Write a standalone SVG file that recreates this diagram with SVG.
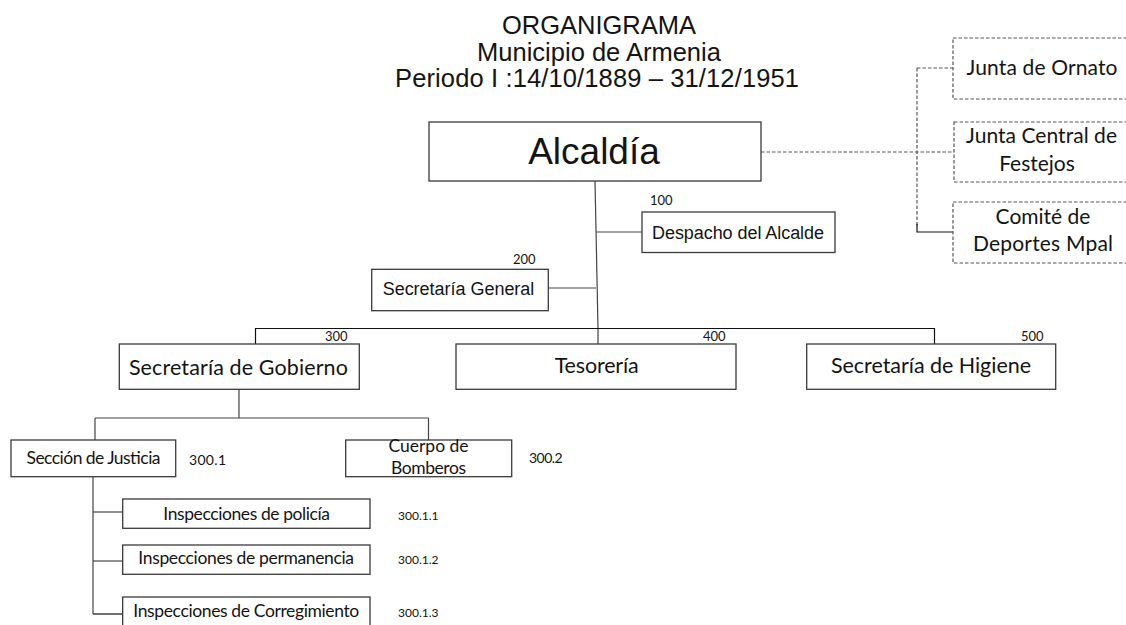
<svg xmlns="http://www.w3.org/2000/svg" width="1126" height="625" viewBox="0 0 1126 625">
<style>
.bg{fill:#fff}
.box{fill:#fff;stroke:#3a3a3a;stroke-width:1.3}
.dbox{fill:#fff;stroke:#555;stroke-width:1.2;stroke-dasharray:3.5 2}
.ln{fill:none;stroke:#444;stroke-width:1.2}
.lnk{fill:none;stroke:#111;stroke-width:1.2}
.dl{fill:none;stroke:#555;stroke-width:1.2;stroke-dasharray:3.5 2}
.a{font-family:"Liberation Sans",Arial,sans-serif;fill:#141414}
.c{font-family:Lato,"Liberation Sans",sans-serif;fill:#141414}
.mid{text-anchor:middle}
</style>
<rect class="bg" x="0" y="0" width="1126" height="625"/>
<g id="title">
<text class="a mid" x="599" y="34" font-size="25.5">ORGANIGRAMA</text>
<text class="a mid" x="599" y="61" font-size="25.5">Municipio de Armenia</text>
<text class="a mid" x="597" y="87" font-size="25.5" textLength="404">Periodo I :14/10/1889 – 31/12/1951</text>
</g>
<g id="connectors">
<polyline class="ln" points="595,181 598,328"/>
<line class="ln" x1="598" y1="328" x2="598" y2="344"/>
<line class="ln" x1="596" y1="232" x2="642" y2="232"/>
<line class="ln" x1="548" y1="288" x2="596" y2="288"/>
<line class="lnk" x1="255.5" y1="328.5" x2="934.5" y2="328.5"/>
<line class="lnk" x1="255.5" y1="328" x2="255.5" y2="344"/>
<line class="lnk" x1="934.5" y1="328" x2="934.5" y2="344"/>
<line class="ln" x1="239" y1="389" x2="239" y2="418"/>
<line class="ln" x1="95" y1="418" x2="428.5" y2="418"/>
<line class="ln" x1="95" y1="418" x2="95" y2="440"/>
<line class="ln" x1="428.5" y1="418" x2="428.5" y2="440"/>
<line class="ln" x1="93" y1="477" x2="93" y2="614"/>
<line class="ln" x1="93" y1="512" x2="123" y2="512"/>
<line class="ln" x1="93" y1="561" x2="123" y2="561"/>
<line class="lnk" x1="93" y1="614" x2="123" y2="614"/>
<line class="dl" x1="761" y1="152" x2="954" y2="152"/>
<line class="dl" x1="917" y1="68" x2="917" y2="226"/>
<line class="dl" x1="917" y1="68" x2="953" y2="68"/>
<polyline class="lnk" points="917,224 917,232 953,232"/>
</g>
<g id="alcaldia">
<rect class="box" x="429" y="122" width="332" height="59"/>
<text class="a mid" x="594" y="164" font-size="37">Alcaldía</text>
</g>
<g id="junta-ornato">
<rect class="dbox" x="953" y="38" width="200" height="61"/>
<text class="c mid" x="1042" y="75" font-size="21" textLength="151">Junta de Ornato</text>
</g>
<g id="junta-central">
<rect class="dbox" x="954" y="122" width="200" height="60"/>
<text class="c mid" x="1041.5" y="142.7" font-size="21" textLength="151">Junta Central de</text>
<text class="c mid" x="1037" y="170.7" font-size="21">Festejos</text>
</g>
<g id="comite">
<rect class="dbox" x="953" y="202" width="200" height="61"/>
<text class="c mid" x="1043" y="224" font-size="21">Comité de</text>
<text class="c mid" x="1043" y="250.7" font-size="21" textLength="140">Deportes Mpal</text>
</g>
<g id="despacho">
<text class="c" x="650" y="205" font-size="13">100</text>
<rect class="box" x="642" y="212" width="193" height="40.5"/>
<text class="a mid" x="738" y="239.3" font-size="18" textLength="172">Despacho del Alcalde</text>
</g>
<g id="secretaria-general">
<text class="c" x="513" y="264.3" font-size="13">200</text>
<rect class="box" x="371.7" y="269.3" width="176.6" height="41.4"/>
<text class="a mid" x="458.5" y="295" font-size="18" textLength="151.6">Secretaría General</text>
</g>
<g id="secretaria-gobierno">
<text class="c" x="325" y="340.7" font-size="13">300</text>
<rect class="box" x="119.3" y="344" width="240" height="45.3"/>
<text class="c mid" x="238.4" y="375" font-size="21.5" textLength="219">Secretaría de Gobierno</text>
</g>
<g id="tesoreria">
<text class="c" x="703" y="340.7" font-size="13">400</text>
<rect class="box" x="456" y="344" width="280" height="45.3"/>
<text class="c mid" x="596.7" y="373" font-size="21.5" textLength="84">Tesorería</text>
</g>
<g id="secretaria-higiene">
<text class="c" x="1021" y="340.7" font-size="13">500</text>
<rect class="box" x="806.7" y="344" width="249" height="45.3"/>
<text class="c mid" x="931" y="373" font-size="21.5" textLength="200">Secretaría de Higiene</text>
</g>
<g id="seccion-justicia">
<rect class="box" x="11" y="440" width="164.7" height="36.7"/>
<text class="c mid" x="93.5" y="464" font-size="17.5" textLength="134">Sección de Justicia</text>
<text class="c" x="189" y="465" font-size="14" textLength="37">300.1</text>
</g>
<g id="cuerpo-bomberos">
<rect class="box" x="345.7" y="440" width="166" height="36.7"/>
<text class="c mid" x="428.5" y="451.7" font-size="17.5">Cuerpo de</text>
<text class="c mid" x="428.5" y="474" font-size="17.5" textLength="75">Bomberos</text>
<text class="c" x="529" y="463" font-size="14" textLength="33.7">300.2</text>
</g>
<g id="inspecciones-policia">
<rect class="box" x="122.7" y="499" width="247.3" height="29.3"/>
<text class="c mid" x="246.7" y="520" font-size="17.5" textLength="166.7">Inspecciones de policía</text>
<text class="c" x="398" y="520" font-size="12">300.1.1</text>
</g>
<g id="inspecciones-permanencia">
<rect class="box" x="122.7" y="545" width="247.3" height="29.3"/>
<text class="c mid" x="246.2" y="564.3" font-size="17.5" textLength="215.7">Inspecciones de permanencia</text>
<text class="c" x="398" y="564.3" font-size="12">300.1.2</text>
</g>
<g id="inspecciones-corregimiento">
<rect class="box" x="122.7" y="597" width="247.3" height="30"/>
<text class="c mid" x="246.3" y="617" font-size="17.5" textLength="226">Inspecciones de Corregimiento</text>
<text class="c" x="398" y="617" font-size="12">300.1.3</text>
</g>
</svg>
